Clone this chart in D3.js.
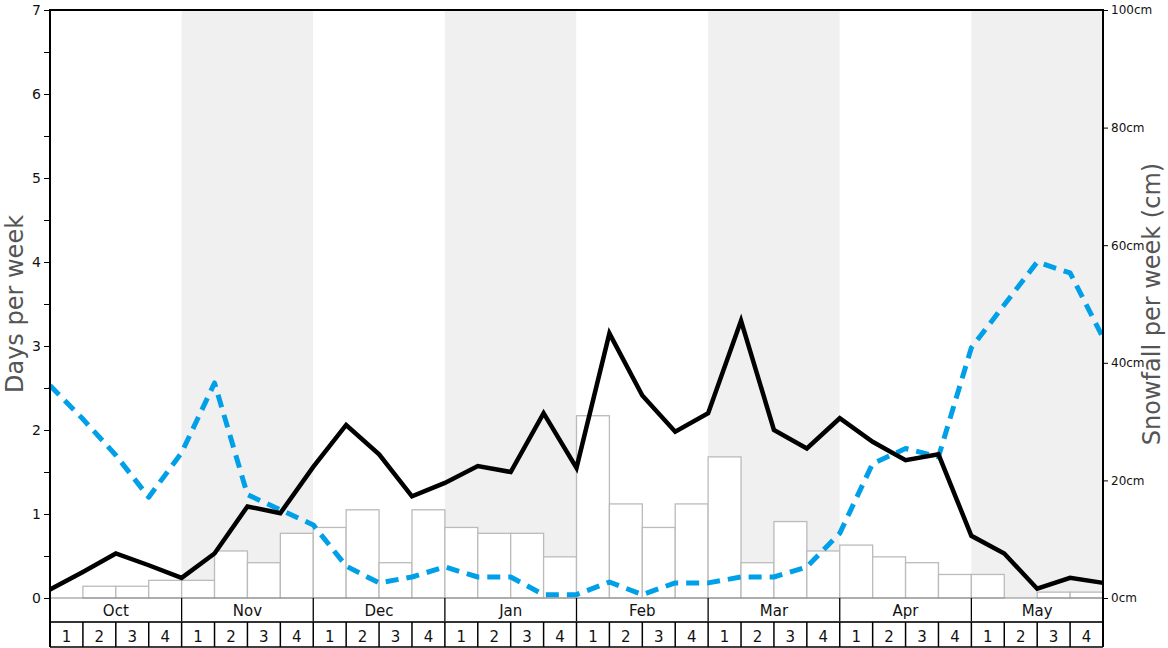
<!DOCTYPE html>
<html><head><meta charset="utf-8">
<script src="https://cdn.jsdelivr.net/npm/d3@7"></script>
<style>body{margin:0;background:#fff}svg{display:block;font-family:"DejaVu Sans",sans-serif}</style>
</head><body>
<svg id="c" width="1168" height="648"></svg>
<script>
const months = ["Oct","Nov","Dec","Jan","Feb","Mar","Apr","May"];
const weekLabels = ["1","2","3","4"];
// snowfall per week (cm), one per week
const snowfallCm = [0,2,2,3, 3,8,6,11, 12,15,6,15, 12,11,11,7, 31,16,12,16, 24,6,13,8, 9,7,6,4, 4,0,1,1];
// days per week, at week boundaries (33 points)
const snowDays = [0.1,0.31,0.53,0.39,0.24, 0.53,1.09,1.01,1.56, 2.06,1.71,1.21,1.37, 1.57,1.5,2.2,1.55,
  3.15,2.41,1.98,2.2, 3.3,2.0,1.78,2.14, 1.86,1.64,1.71,0.74, 0.53,0.11,0.24,0.18];
const otherDays = [2.53,2.13,1.7,1.2,1.73, 2.56,1.23,1.05,0.87, 0.38,0.18,0.25,0.37, 0.25,0.25,0.04,0.04,
  0.19,0.04,0.18,0.18, 0.25,0.25,0.37,0.77, 1.6,1.78,1.68,2.98, 3.49,4.0,3.87,3.1];
const leftTicks = [0,1,2,3,4,5,6,7];
const rightTicks = [0,20,40,60,80,100];

const L=50,R=1103,T=10,B=598;
const svg=d3.select("#c");
const nW=months.length*4;
const x=d3.scaleLinear().domain([0,nW]).range([L,R]);
const yL=d3.scaleLinear().domain([0,7]).range([B,T]);
const yR=d3.scaleLinear().domain([0,100]).range([B,T]);

// month bands
svg.selectAll("rect.band").data(months).enter().append("rect")
  .attr("x",(d,i)=>x(i*4)).attr("y",T).attr("width",x(4)-x(0)).attr("height",B-T)
  .attr("fill",(d,i)=>i%2?"#f0f0f0":"#fff");

// bars
svg.selectAll("rect.bar").data(snowfallCm).enter().append("rect")
  .attr("x",(d,i)=>x(i)).attr("y",d=>yR(d)).attr("width",x(1)-x(0)).attr("height",d=>B-yR(d))
  .attr("fill","#fff").attr("stroke","#bbb").attr("stroke-width",1.3)
  .attr("display",d=>d>0?null:"none");

// lines
const line=d3.line().x((d,i)=>x(i)).y(d=>yL(d));
svg.append("path").datum(otherDays).attr("d",line).attr("fill","none")
  .attr("stroke","#00a0e9").attr("stroke-width",5).attr("stroke-dasharray","13,8").attr("stroke-linejoin","round");
svg.append("path").datum(snowDays).attr("d",line).attr("fill","none")
  .attr("stroke","#000").attr("stroke-width",4.5).attr("stroke-linejoin","miter");

// baseline
svg.append("line").attr("x1",L).attr("x2",R).attr("y1",B).attr("y2",B).attr("stroke","#888").attr("stroke-width",1.2);
// top border
svg.append("line").attr("x1",L).attr("x2",R).attr("y1",T).attr("y2",T).attr("stroke","#000").attr("stroke-width",2);

// month row
const mRowB=622, wRowB=647;
months.forEach((m,i)=>{
  svg.append("text").attr("x",(x(i*4)+x(i*4+4))/2).attr("y",616).attr("text-anchor","middle")
    .attr("font-size",15).attr("fill","#111").text(m);
});
d3.range(0,months.length+1).forEach(i=>{
  svg.append("line").attr("x1",x(i*4)).attr("x2",x(i*4)).attr("y1",B).attr("y2",mRowB).attr("stroke","#000").attr("stroke-width",1.3);
});
svg.append("line").attr("x1",L).attr("x2",R).attr("y1",mRowB).attr("y2",mRowB).attr("stroke","#333").attr("stroke-width",2);
// week row
d3.range(0,nW).forEach(i=>{
  svg.append("text").attr("x",x(i+0.5)).attr("y",642).attr("text-anchor","middle")
    .attr("font-size",15).attr("fill","#111").text(weekLabels[i%4]);
});
d3.range(0,nW+1).forEach(i=>{
  svg.append("line").attr("x1",x(i)).attr("x2",x(i)).attr("y1",mRowB).attr("y2",wRowB).attr("stroke","#000").attr("stroke-width",1.5);
});
svg.append("line").attr("x1",L).attr("x2",R).attr("y1",wRowB).attr("y2",wRowB).attr("stroke","#000").attr("stroke-width",1.5);

// left axis
const ax=d3.axisLeft(yL).tickValues(d3.range(0,7.01,0.5)).tickSize(6).tickFormat(d=>Number.isInteger(d)?d:"");
const gL=svg.append("g").attr("transform",`translate(${L},0)`).call(ax);
gL.select(".domain").remove();
gL.selectAll("text").attr("font-size",14).attr("fill","#111").attr("font-family","DejaVu Sans");
svg.append("line").attr("x1",L).attr("x2",L).attr("y1",T-1).attr("y2",wRowB).attr("stroke","#000").attr("stroke-width",2);

// right axis
const ar=d3.axisRight(yR).tickValues(rightTicks).tickSize(5).tickFormat(d=>d+"cm");
const gR=svg.append("g").attr("transform",`translate(${R},0)`).call(ar);
gR.select(".domain").remove();
gR.selectAll("text").attr("font-size",12).attr("fill","#111").attr("font-family","DejaVu Sans");
svg.append("line").attr("x1",R).attr("x2",R).attr("y1",T-1).attr("y2",wRowB).attr("stroke","#000").attr("stroke-width",2);

// titles
svg.append("text").attr("transform","translate(23,304) rotate(-90)").attr("text-anchor","middle")
  .attr("font-size",24).attr("fill","#555").text("Days per week");
svg.append("text").attr("transform","translate(1160,304) rotate(-90)").attr("text-anchor","middle")
  .attr("font-size",24).attr("fill","#555").text("Snowfall per week (cm)");
</script>
</body></html>
